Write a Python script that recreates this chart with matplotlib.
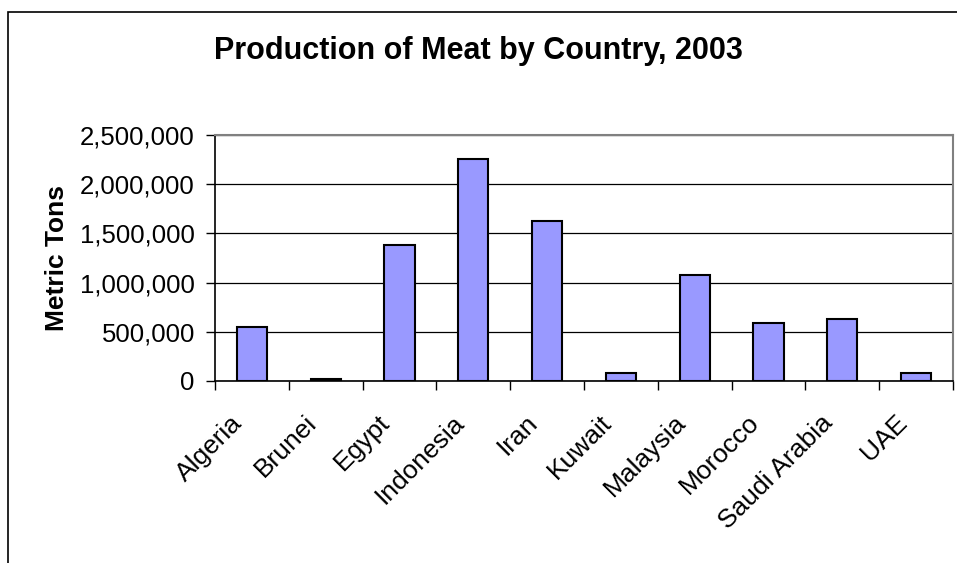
import numpy as np
import matplotlib.pyplot as plt
from matplotlib.patches import Rectangle
from matplotlib.ticker import FuncFormatter, MultipleLocator
from matplotlib.transforms import ScaledTranslation

# meat production by country, 2003 (metric tons)
countries = ['Algeria', 'Brunei', 'Egypt', 'Indonesia', 'Iran', 'Kuwait',
             'Malaysia', 'Morocco', 'Saudi Arabia', 'UAE']
tons = [552000, 20000, 1382000, 2256000, 1626000, 81000,
        1077000, 592000, 630000, 81000]

plt.rcParams['font.family'] = ['Liberation Sans', 'DejaVu Sans']

fig = plt.figure(figsize=(9.57, 5.63), dpi=100)
ax = fig.add_axes([215/957, 1 - 381/563, 738/957, 246/563])

# outer chart border (right and bottom edges are cut off in the reference)
fig.patches.append(Rectangle((8/957, -0.1), 1.2, 1.1 - 12/563, transform=fig.transFigure,
                             fill=False, edgecolor='black', linewidth=1.2))

x = np.arange(len(countries))
ax.bar(x, tons, width=0.41, color='#9999FF', edgecolor='black', linewidth=1.5, zorder=3)

ax.set_xlim(-0.5, len(countries) - 0.5)
ax.set_ylim(0, 2500000)
ax.yaxis.set_major_locator(MultipleLocator(500000))
ax.yaxis.set_major_formatter(FuncFormatter(lambda v, p: f'{int(v):,}'))
ax.grid(axis='y', color='black', linewidth=0.9, zorder=1)

# category labels: rotated, right end sitting just left of the category centre
ax.set_xticks(x)
ax.set_xticklabels([])
shift = ScaledTranslation(-13/100, -38/100, fig.dpi_scale_trans)
for i, name in zip(x, countries):
    ax.text(i, 0, name, transform=ax.get_xaxis_transform() + shift, rotation=45,
            rotation_mode='anchor', ha='right', va='center', fontsize=19)
ax.set_xticks(np.arange(-0.5, len(countries)), minor=True)
ax.tick_params(axis='x', which='major', length=0)
ax.tick_params(axis='x', which='minor', length=6.5, width=1, direction='out')
ax.tick_params(axis='y', length=6.5, width=1, labelsize=18.5, pad=8)

for s in ['left', 'bottom']:
    ax.spines[s].set_color('black')
    ax.spines[s].set_linewidth(1.2)
for s in ['top', 'right']:
    ax.spines[s].set_color('#808080')
    ax.spines[s].set_linewidth(1.5)

ax.set_ylabel('Metric Tons', fontsize=19, fontweight='bold', labelpad=8)
fig.text(0.5, 1 - 51/563, 'Production of Meat by Country, 2003', ha='center', va='center',
         fontsize=22, fontweight='bold')

fig.savefig('out.png', dpi=100)
